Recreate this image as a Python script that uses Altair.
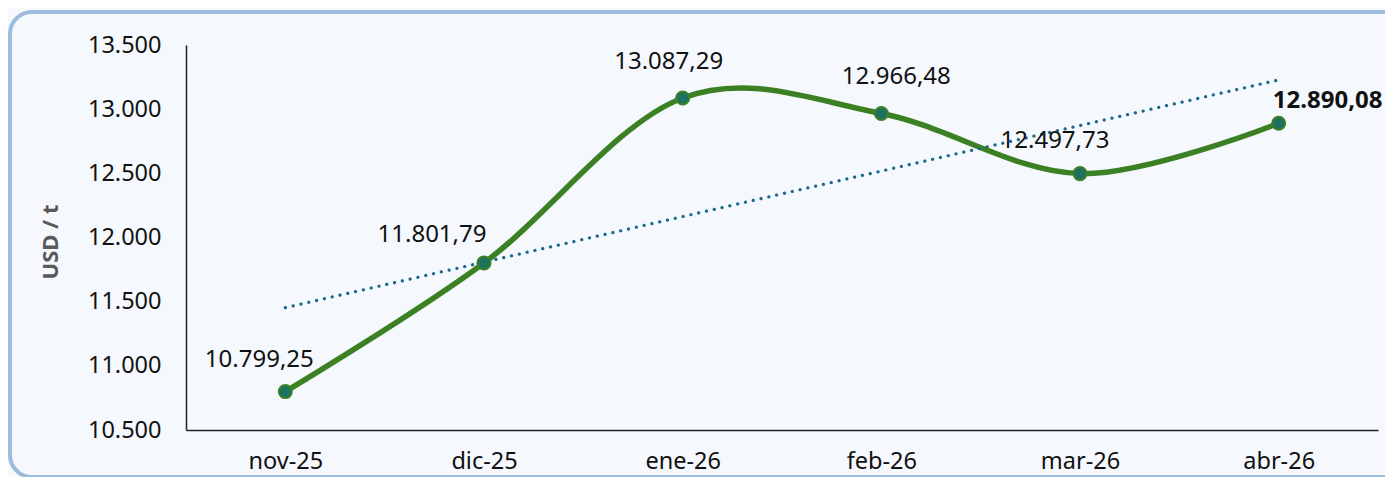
import altair as alt
import pandas as pd

months = ["nov-25", "dic-25", "ene-26", "feb-26", "mar-26", "abr-26"]
prices = [10799.25, 11801.79, 13087.29, 12966.48, 12497.73, 12890.08]
y_ticks = [10500, 11000, 11500, 12000, 12500, 13000, 13500]

# label placement (layout only): dx, dy relative to each point
label_offsets = {
    "nov-25": (-26, -32, "normal"),
    "dic-25": (-52, -28, "normal"),
    "ene-26": (-14, -36, "normal"),
    "feb-26": (15, -36, "normal"),
    "mar-26": (-25, -33, "normal"),
    "abr-26": (49, -22, "bold"),
}

df = pd.DataFrame({"mes": months, "precio": prices, "idx": list(range(len(months)))})

W, H = 1192, 385
FONT = "Noto Sans"

x_enc = alt.X("mes:N", sort=months, scale=alt.Scale(paddingOuter=0.5),
              axis=alt.Axis(title=None, labelAngle=0, ticks=False, labelPadding=19,
                            domainColor="#222222", domainWidth=1.5, zindex=2,
                            labelFontSize=23.5, labelColor="#111111", labelFont=FONT))
y_scale = alt.Scale(domain=[10500, 13500], nice=False, zero=False)
y_enc = alt.Y("precio:Q", scale=y_scale,
              axis=alt.Axis(title="USD / t", values=y_ticks, format=",.0f", ticks=False,
                            grid=False, labelPadding=25, domainColor="#222222",
                            domainWidth=1.5, labelFontSize=23.5, labelColor="#111111",
                            labelFont=FONT, titleFont=FONT, titleFontSize=22, zindex=2,
                            titleFontWeight="bold", titleColor="#595959",
                            titleX=-136, titleY=H / 2 + 4, titleAngle=-90,
                            titleAlign="center", titleBaseline="middle"))

base = alt.Chart(df)

frame = alt.Chart(pd.DataFrame({"a": [0]})).mark_rect(
    fill="transparent", stroke="#9dbbdd", strokeWidth=4, cornerRadius=22
).encode(x=alt.value(-176), x2=alt.value(1240), y=alt.value(-33), y2=alt.value(432))

trend = base.mark_line(
    color="#1b6a8c", strokeWidth=3.2, strokeDash=[0.1, 7.9], strokeCap="round"
).transform_regression("idx", "precio").transform_calculate(
    mes=f"{months}[datum.idx]"
).encode(x=x_enc, y=y_enc)

line = base.mark_line(color="#3c8024", strokeWidth=5.5, interpolate="cardinal").encode(
    x=x_enc, y=y_enc)

points = base.mark_point(filled=True, size=170, fill="#1d7161", stroke="#3c8024",
                         strokeWidth=2, opacity=1).encode(x=x_enc, y=y_enc)

labels = []
for m in months:
    dx, dy, fw = label_offsets[m]
    labels.append(
        base.transform_filter(alt.datum.mes == m).mark_text(
            dx=dx, dy=dy, fontSize=24, font=FONT, fontWeight=fw, color="#111111",
            align="center", baseline="middle"
        ).encode(x=x_enc, y=y_enc, text=alt.Text("precio:Q", format=",.2f"))
    )

chart = alt.layer(line, trend, points, *labels, frame).properties(
    width=W, height=H,
    autosize=alt.AutoSizeParams(type="none"),
    padding={"left": 178, "top": 37, "right": 7, "bottom": 47},
    background="#f5f8fc",
).configure(
    locale={"number": {"decimal": ",", "thousands": ".", "grouping": [3],
                       "currency": ["", ""]}}
).configure_view(stroke=None)

chart.save("out.html", embed_options={"renderer": "svg", "actions": False})
